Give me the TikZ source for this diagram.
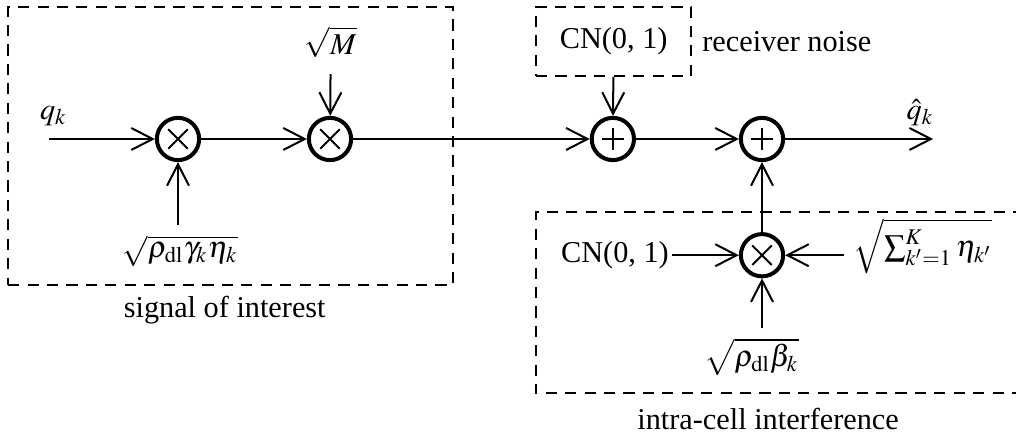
\documentclass[tikz,border=0pt]{standalone}
\usepackage{mathptmx}
\usepackage{fontspec}
\setmainfont{Liberation Serif}
\usetikzlibrary{arrows.meta,positioning}

\begin{document}
\begin{tikzpicture}[
  >={Straight Barb[length=7.5pt,width=7.7pt]},
  font=\fontsize{10.6}{12.7}\selectfont,
  op/.style={circle,draw,line width=1.4pt,minimum size=0.52cm,inner sep=0pt},
  mult/.style={op,path picture={
    \draw[line width=0.7pt]
      ([shift={(-0.12,-0.12)}]path picture bounding box.center) -- ++(0.24,0.24)
      ([shift={(-0.12,0.12)}]path picture bounding box.center) -- ++(0.24,-0.24);}},
  add/.style={op,path picture={
    \draw[line width=0.7pt]
      ([shift={(-0.135,0)}]path picture bounding box.center) -- ++(0.27,0)
      ([shift={(0,-0.135)}]path picture bounding box.center) -- ++(0,0.27);}},
  lbl/.style={inner sep=3.33pt},
  grp/.style={draw,line width=0.7pt,dash pattern=on 3.9pt off 2.9pt},
  arr/.style={->,line width=0.7pt}
]
  \useasboundingbox (0,0) rectangle (12.5,5.34);

  % groups
  \node[grp,minimum width=5.47cm,minimum height=3.42cm] (soi) at (2.835,3.54) {};
  \node[lbl,below] (soilabel) at ([xshift=-2pt]soi.south) {signal of interest};
  \node[grp,minimum width=1.91cm,minimum height=0.85cm] (noise) at (7.55,4.83) {CN(0, 1)};
  \node[lbl,anchor=west] (noiselabel) at (noise.east) {receiver noise};
  \draw[grp] (12.6,2.73) -| (6.59,0.50) -- (12.6,0.50);
  \node[lbl,anchor=base] (icilabel) at (9.45,0.05) {intra-cell interference};

  % operators
  \node[mult] (m1) at (2.19,3.63) {};
  \node[mult] (m2) at (4.06,3.63) {};
  \node[add] (s1) at (7.54,3.63) {};
  \node[add] (s2) at (9.375,3.63) {};
  \node[mult] (m3) at (9.375,2.20) {};

  % inputs and outputs
  \coordinate (qin) at (0.60,3.63);
  \coordinate (qout) at (11.48,3.63);
  \node[lbl,anchor=base] (qlabel) at (0.658,3.875) {$q_k$};
  \node[lbl,anchor=base] (qhatlabel) at (11.32,3.875) {$\hat{q}_k$};
  \node[lbl,outer sep=2.3pt] (sqrtM) at (4.07,4.82) {$\sqrt{M}$};
  \node[lbl] (gain) at (2.22,2.25) {$\sqrt{\rho_{\mathrm{dl}}\gamma_k\eta_k}$};
  \node[lbl] (beta) at (9.246,0.947) {$\sqrt{\rho_{\mathrm{dl}}\beta_k}$};
  \node[lbl,inner sep=1pt,anchor=east] (cnleft) at (8.27,2.20) {CN(0, 1)};
  \node[lbl,anchor=west] (etasum) at (10.38,2.31) {$\sqrt{\sum_{k'=1}^{K}\eta_{k'}}$};

  \draw[arr] (qin) -- (m1);
  \draw[arr] (m1) -- (m2);
  \draw[arr] (m2) -- (s1);
  \draw[arr] (s1) -- (s2);
  \draw[arr] (s2) -- (qout);
  \draw[arr] (sqrtM) -- (m2);
  \draw[arr] (gain.north -| m1) -- (m1);
  \draw[arr] (noise) -- (s1);
  \draw[arr] (m3) -- (s2);
  \draw[arr] (cnleft) -- (m3);
  \draw[arr] (etasum.west |- m3) -- (m3);
  \draw[arr] (beta.north -| m3) -- (m3);
\end{tikzpicture}
\end{document}
